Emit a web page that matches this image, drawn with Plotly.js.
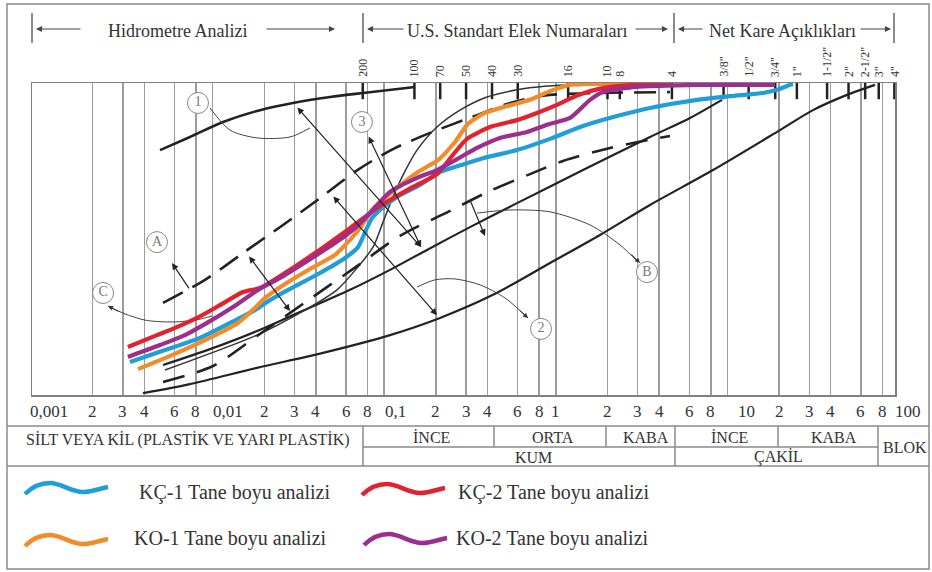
<!DOCTYPE html>
<html>
<head>
<meta charset="utf-8">
<script src="https://cdn.plot.ly/plotly-3.0.1.min.js"></script>
<style>html,body{margin:0;padding:0;background:#fff;}#chart{width:932px;height:572px;}</style>
</head>
<body>
<div id="chart"></div>
<script>
// ---------------- DATA (diameter in mm, percent passing) ----------------
const kc1D = [0.0033,0.00528,0.008446,0.01263,0.01766,0.0216,0.02825,0.04225,0.05911,0.07037,0.07833,0.0849,0.0971,0.1188,0.1617,0.2115,0.2765,0.3765,0.5942,0.9251,1.44,2.273,3.54,6.65,10.35,16.13,19.45,23.16,24.12];
const kc1P = [10.6,14.4,18.3,23.1,27.2,30.4,34.0,39.1,43.9,47.4,52.9,56.7,59.9,63.5,67.3,71.5,73.6,75.9,78.5,82.1,86.2,89.4,92.0,94.6,95.8,96.8,97.8,99.4,99.7];

const kc2D = [0.00321,0.00474,0.00604,0.00811,0.01104,0.01504,0.01889,0.02642,0.03951,0.0632,0.09452,0.1472,0.2031,0.2517,0.3038,0.4135,0.5942,0.777,1.016,1.329,1.81,2.817,4.756];
const kc2P = [15.4,19.2,21.5,24.7,28.8,33.0,34.3,39.1,45.5,53.5,60.6,66.7,70.8,77.0,82.1,85.9,88.1,90.4,93.0,96.0,98.2,99.4,99.7];

const ko1D = [0.003675,0.0058,0.00903,0.01406,0.01766,0.0202,0.02642,0.03695,0.05167,0.0632,0.07228,0.0849,0.111,0.1574,0.2059,0.2586,0.3079,0.3867,0.5196,0.7075,0.9251,1.21,1.81,3.888];
const ko1P = [8.3,12.8,17.6,23.1,27.9,31.1,35.6,40.4,44.9,49.7,53.5,59.3,65.1,71.5,75.3,81.1,86.9,90.4,92.6,94.6,97.4,99.4,99.7,99.7];

const ko2D = [0.00321,0.00494,0.006905,0.00928,0.01315,0.01839,0.0247,0.03549,0.05167,0.06758,0.08265,0.1081,0.1553,0.2031,0.2656,0.3474,0.473,0.6796,0.9251,1.21,1.583,1.884,2.817,3.54,6.923,18.94];
const ko2P = [12.2,16.0,19.2,23.1,28.2,33.7,37.5,42.9,48.7,53.5,58.3,65.1,69.6,72.1,75.6,79.2,82.4,84.3,86.9,88.8,94.6,97.1,98.7,99.0,99.4,99.4];

// envelope / zone boundary curves
const zone1UpperD = [0.00494,0.00738,0.0115,0.01889,0.02941,0.04832,0.07525,0.1512];
const zone1UpperP = [78.5,82.7,87.5,91.3,93.6,95.5,96.8,98.7];

const zone3UpperD = [0.00528,0.01815,0.03231,0.05308,0.06942,0.08605,0.0984,0.1125,0.1287,0.1553,0.2031,0.2765,0.3973,0.5942,0.8886,1.384];
const zone3UpperP = [8.0,19.2,26.3,33.7,40.7,47.4,55.4,63.5,70.5,78.5,85.9,91.3,95.5,97.8,99.0,99.7];

const midLineD = [0.00514,0.00966,0.01815,0.02941,0.0632,0.1081,0.1776,0.3162,0.5942,1.44,3.54,6.055,9.301];
const midLineP = [9.6,14.7,20.5,25.6,33.7,40.1,46.5,53.8,61.5,72.1,82.7,88.8,94.6];

const lowLineD = [0.00393,0.00738,0.01815,0.04399,0.1081,0.2115,0.4305,0.9251,1.81,3.54,8.245,20.25,31.53,49.77,72.45];
const lowLineP = [0.6,3.5,8.7,13.5,19.2,24.7,32.1,42.3,51.3,60.9,72.1,84.9,91.3,96.2,99.4];

const dashAD = [0.00514,0.00903,0.01504,0.02572,0.04225,0.06942,0.1125,0.1849,0.3474,0.5196,0.7075,0.9251,1.81,4.63];
const dashAP = [29.5,36.9,45.5,54.5,63.1,72.0,78.8,84.0,89.7,93.3,95.2,96.2,96.8,97.1];

const dashBD = [0.00514,0.01005,0.01815,0.03549,0.06942,0.1236,0.2417,0.4135,0.7075,1.102,2.07,3.222,4.63];
const dashBP = [4.2,9.3,18.9,30.1,41.3,51.0,59.0,65.4,70.8,75.0,79.2,81.4,83.0];

// sieves
const sieveLabels = ['200','100','70','50','40','30','16','10','8','4','3/8"','1/2"','3/4"','1"','1-1/2"','2"','2-1/2"','3"','4"'];
const sieveSizes  = [0.075,0.15,0.212,0.3,0.425,0.6,1.18,2.0,2.36,4.75,9.5,13.3,19.0,25.4,38.1,50.8,63.5,76.2,94];

// axis ticks
const gridVals = [0.002,0.003,0.004,0.006,0.008,0.01,0.02,0.03,0.04,0.06,0.08,0.1,0.2,0.3,0.4,0.6,0.8,1,2,3,4,6,8,10,20,30,40,60,80];
const tickVals = [0.001,0.002,0.003,0.004,0.006,0.008,0.01,0.02,0.03,0.04,0.06,0.08,0.1,0.2,0.3,0.4,0.6,0.8,1,2,3,4,6,8,10,20,30,40,60,80];
const tickText = ['0,001','2','3','4','6','8','0,01','2','3','4','6','8','0,1','2','3','4','6','8','1','2','3','4','6','8','10','2','3','4','6','8'];
const lastTickText = '100';

// classification table
const soilTop = ['İNCE','ORTA','KABA','İNCE','KABA'];
const soilBottom = ['KUM','ÇAKİL'];

// legend
const seriesNames = ['KÇ-1 Tane boyu analizi','KÇ-2 Tane boyu analizi','KO-1 Tane boyu analizi','KO-2 Tane boyu analizi'];
const seriesColors = ['#1f9ed9','#e2222e','#f28b2a','#9c2e8e'];

// ---------------- LAYOUT HELPERS ----------------
const FONT = 'Liberation Serif, serif';
const P = {l:32, t:83, w:863, h:312};
const fx = v => (v - P.l) / P.w;
const fy = v => (P.t + P.h - v) / P.h;
const LG = Math.log10;
const TXT = '#333';
const LINEC = '#8a8a8a';

const shapes = [];
const ann = [];
function hl(x0,x1,y,c,w){shapes.push({type:'line',xref:'paper',yref:'paper',x0:fx(x0),x1:fx(x1),y0:fy(y),y1:fy(y),line:{color:c||LINEC,width:w||1.5}});}
function vl(x,y0,y1,c,w){shapes.push({type:'line',xref:'paper',yref:'paper',x0:fx(x),x1:fx(x),y0:fy(y0),y1:fy(y1),line:{color:c||LINEC,width:w||1.5}});}
function txt(x,y,s,size,o){ann.push(Object.assign({xref:'paper',yref:'paper',x:fx(x),y:fy(y),text:s,showarrow:false,xanchor:'center',yanchor:'middle',font:{family:FONT,size:size,color:TXT}},o||{}));}
function harrow(hx,tx,y){ann.push({xref:'paper',yref:'paper',x:fx(hx),y:fy(y),ax:tx-hx,ay:0,text:'',showarrow:true,arrowhead:2,arrowsize:1.1,arrowwidth:1.1,arrowcolor:'#444',standoff:0});}
function darrow(d1,p1,d2,p2,both){ann.push({xref:'x',yref:'y',axref:'x',ayref:'y',x:LG(d2),y:p2,ax:LG(d1),ay:p1,text:'',showarrow:true,arrowhead:2,arrowsize:1.1,arrowwidth:1.2,arrowcolor:'#222',standoff:0,startstandoff:0,arrowside:both?'end+start':'end',startarrowhead:2,startarrowsize:1.1});}
function tipArrow(d,p,ax,ay){ann.push({xref:'x',yref:'y',x:LG(d),y:p,ax:ax,ay:ay,text:'',showarrow:true,arrowhead:2,arrowsize:1,arrowwidth:1,arrowcolor:'#333',standoff:0});}

// outer frame
shapes.push({type:'rect',xref:'paper',yref:'paper',x0:fx(7),x1:fx(929),y0:fy(4),y1:fy(569),line:{color:LINEC,width:1.5}});
// header
[32,363,674,894].forEach(x=>vl(x,13,43,'#666',1.5));
harrow(36,82,29); harrow(335,265,29); harrow(367,405,29); harrow(668,634,29); harrow(678,704,29); harrow(891,859,29);
txt(177,31,'Hidrometre Analizi',18);
txt(517,31,'U.S. Standart Elek Numaraları',18);
txt(782,31,'Net Kare Açıklıkları',18);

// tick labels
const leftAlign = {'0,001':-13,'0,01':-2,'0,1':-1,'10':9};
tickVals.forEach((v,i)=>{
  const s = tickText[i];
  const o = {xref:'x',yref:'paper',x:LG(v),y:fy(411),text:s,showarrow:false,yanchor:'middle',font:{family:FONT,size:17,color:TXT}};
  if (s in leftAlign){o.xanchor='left';o.xshift=leftAlign[s];} else {o.xanchor='center';}
  ann.push(o);
});
txt(893,411,lastTickText,17,{xanchor:'left'});
// sieve labels
sieveSizes.forEach((v,i)=>{
  ann.push({xref:'x',yref:'paper',x:LG(v),y:fy(79),text:sieveLabels[i],showarrow:false,textangle:-90,xanchor:'center',yanchor:'bottom',font:{family:FONT,size:12,color:TXT}});
});

// table
hl(7,929,426); hl(363,878,447); hl(7,929,466);
vl(363,426,466); vl(494,426,447); vl(606,426,447); vl(675,426,466); vl(778,426,447); vl(878,426,466);
txt(188,440,'SİLT VEYA KİL (PLASTİK VE YARI PLASTİK)',16);
[431,553,646,729,834].forEach((x,i)=>txt(x,437,soilTop[i],16));
txt(905,447,'BLOK',16);
txt(533,457,soilBottom[0],16); txt(778,457,soilBottom[1],16);

// legend squiggles
function wave(x0,yc){
  const pts=[[0,5],[8,-3],[16,-6],[25,-6],[36,-6],[46,3],[58,3],[68,3],[76,-1],[83,-2]];
  const s=pts.map(([dx,dy])=>fx(x0+dx).toFixed(5)+','+fy(yc+dy).toFixed(5));
  return 'M '+s[0]+' C '+s[1]+' '+s[2]+' '+s[3]+' C '+s[4]+' '+s[5]+' '+s[6]+' C '+s[7]+' '+s[8]+' '+s[9];
}
const legPos = [[25,489,137,492],[362,490,456,492],[25,541,132,538],[364,540,454,538]];
legPos.forEach((q,i)=>{
  shapes.push({type:'path',xref:'paper',yref:'paper',path:wave(q[0],q[1]),line:{color:seriesColors[i],width:4.5}});
  txt(q[2],q[3],seriesNames[i],20,{xanchor:'left'});
});

// chart arrows
darrow(0.03062,92.6,0.1639,47.4,true);
darrow(0.08044,83.3,0.1639,47.4,true);
darrow(0.04965,64.1,0.2031,25.6,true);
darrow(0.01608,44.9,0.02825,26.9,true);
darrow(0.007383,33.7,0.005799,42.3,false);
darrow(0.3162,62.5,0.3867,51.0,false);
tipArrow(0.002457,28.5,12,6);
tipArrow(3.096,42.3,-10,-10);
tipArrow(0.6887,24.7,-10,-9);

// ---------------- TRACES ----------------
const traces = [];
function ln(x,y,color,width,dash,shape){traces.push({type:'scatter',mode:'lines',x:x,y:y,hoverinfo:'skip',line:{color:color,width:width,dash:dash||'solid',shape:shape||'spline',smoothing:0.8}});}

// sieve tick marks
const tx=[],ty=[];
sieveSizes.forEach(v=>{tx.push(v,v,null);ty.push(100,94.8,null);});
traces.push({type:'scatter',mode:'lines',x:tx,y:ty,hoverinfo:'skip',line:{color:'#222',width:2.5}});

ln(zone1UpperD,zone1UpperP,'#222',2.6);
ln(midLineD,midLineP,'#222',2.2);
ln(lowLineD,lowLineP,'#222',2.2);
ln(zone3UpperD,zone3UpperP,'#333',1.5);
ln(dashAD,dashAP,'#222',2.6,'22px,11px');
ln(dashBD,dashBP,'#222',2.6,'22px,13px');

// leader arcs
ln([0.00966,0.01263,0.01815,0.02825,0.03695],[92.0,84.9,82.4,82.7,85.6],'#444',1);
ln([0.002457,0.003087,0.004037,0.005646,0.007896,0.00992],[28.5,26.0,24.0,23.4,24.0,25.3],'#444',1);
ln([0.3474,0.5409,0.9251,1.583,2.367,3.013],[58.3,59.3,58.7,54.5,48.1,42.6],'#444',1);
ln([0.1553,0.1977,0.2586,0.3617,0.5058,0.6887],[34.6,36.9,37.2,35.3,31.1,24.7],'#444',1);

// grain size curves
traces.push({type:'scatter',mode:'lines',x:kc1D,y:kc1P,hoverinfo:'skip',line:{color:seriesColors[0],width:4.2,shape:'spline',smoothing:0.6}});
traces.push({type:'scatter',mode:'lines',x:ko1D,y:ko1P,hoverinfo:'skip',line:{color:seriesColors[2],width:4.2,shape:'spline',smoothing:0.6}});
traces.push({type:'scatter',mode:'lines',x:kc2D,y:kc2P,hoverinfo:'skip',line:{color:seriesColors[1],width:4.2,shape:'spline',smoothing:0.6}});
traces.push({type:'scatter',mode:'lines',x:ko2D,y:ko2P,hoverinfo:'skip',line:{color:seriesColors[3],width:4.2,shape:'spline',smoothing:0.6}});

// zone labels (circled)
traces.push({type:'scatter',mode:'markers+text',x:[0.00822,0.82,0.0742,0.00474,3.40,0.0023],y:[93.6,21.2,87.5,49.0,39.4,32.7],
  text:['1','2','3','A','B','C'],textposition:'middle center',textfont:{family:FONT,size:14,color:'#777'},
  marker:{symbol:'circle',size:21,color:'#fff',line:{color:'#888',width:1}},hoverinfo:'skip',cliponaxis:false});

const layout = {
  width:932,height:572,margin:{l:P.l,r:932-P.l-P.w,t:P.t,b:572-P.t-P.h,pad:0},
  paper_bgcolor:'#fff',plot_bgcolor:'#fff',showlegend:false,
  xaxis:{type:'log',range:[LG(0.001)-9/171.6,LG(100)-4/171.6],tickvals:gridVals,showticklabels:false,ticks:'',
    showgrid:true,gridcolor:'#9c9c9c',gridwidth:1.5,zeroline:false,showline:true,mirror:true,linecolor:'#808080',linewidth:1.5,fixedrange:true},
  yaxis:{range:[0,100],showgrid:false,showticklabels:false,ticks:'',zeroline:false,showline:true,mirror:true,linecolor:'#808080',linewidth:1.5,fixedrange:true},
  shapes:shapes,annotations:ann
};
Plotly.newPlot('chart',traces,layout,{staticPlot:true,displayModeBar:false});
</script>
</body>
</html>
